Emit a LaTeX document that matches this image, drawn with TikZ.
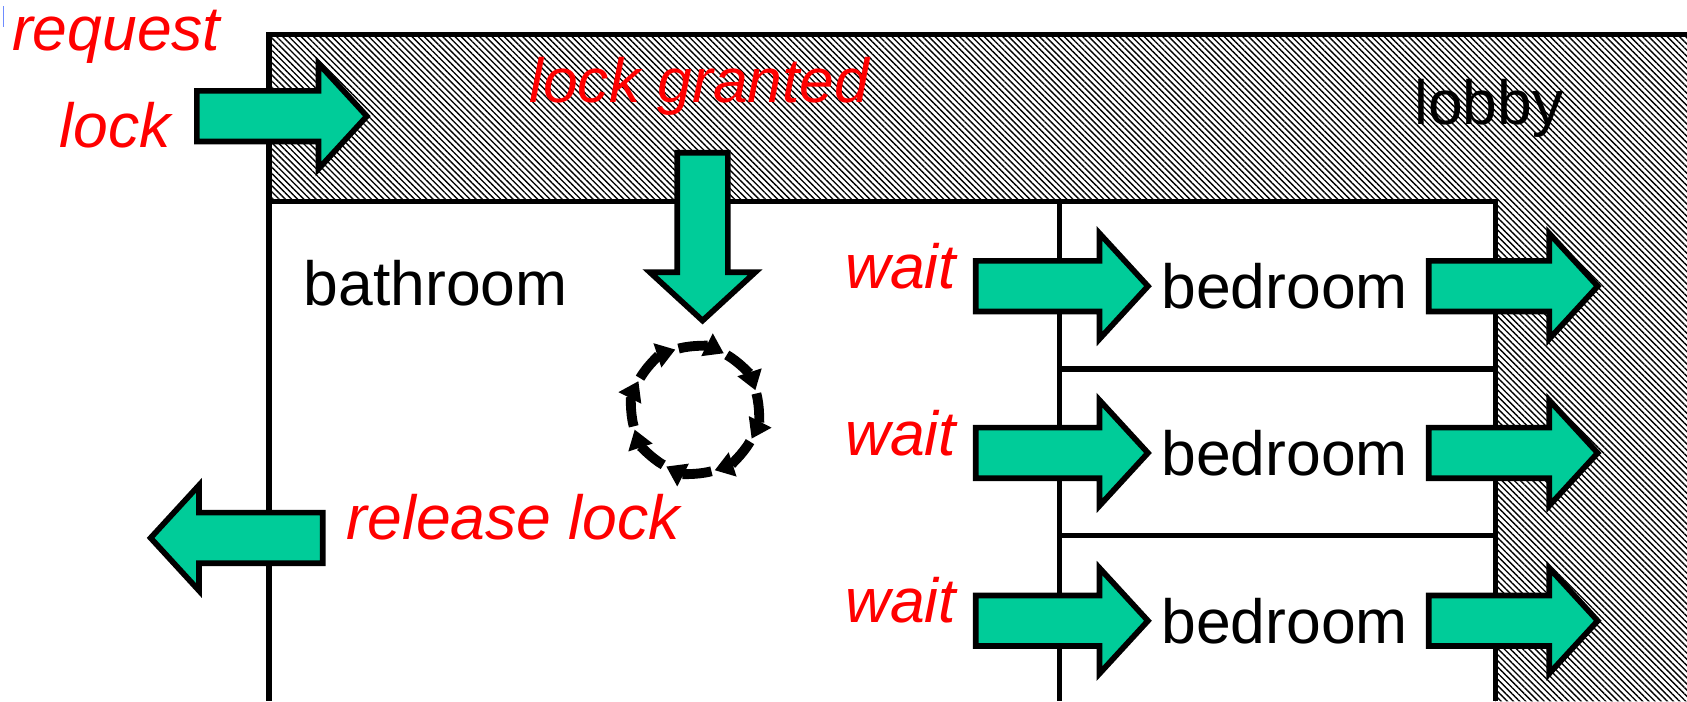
\documentclass[tikz,border=0pt]{standalone}
\usepackage{fontspec}
\setmainfont{Liberation Sans}
\usetikzlibrary{patterns.meta,arrows.meta}
\definecolor{mint}{RGB}{0,204,153}
\definecolor{cursorblue}{RGB}{110,140,255}

\begin{document}
\begin{tikzpicture}[x=0.01cm,y=-0.01cm,
  wall/.style={line width=1.4pt},
  hatch/.style={pattern={Lines[angle=-45,distance=1.15pt,line width=0.36pt]}},
  blk/.style={fill=mint,draw=black,line width=1.5pt,line join=miter},
  redlbl/.style={text=red,font=\fontsize{16.5}{19}\selectfont\itshape,anchor=base,inner sep=0pt},
  roomlbl/.style={text=black,font=\fontsize{16.5}{19}\selectfont,anchor=base,inner sep=0pt},
  spin/.style={line width=2.6pt,-{Triangle[width=6.4pt,length=5pt]}},
  pics/blockarrow/.style={code={
    \path[blk] (0,-23.5) -- ({#1-45},-23.5) -- ({#1-45},-49) -- (#1,0)
      -- ({#1-45},49) -- ({#1-45},23.5) -- (0,23.5) -- cycle;}}
]
\useasboundingbox (0,0) rectangle (1568,652);

% lobby: hatched band around the rooms
\fill[hatch] (250,32) -- (1568,32) -- (1568,652) -- (1390,652)
  -- (1390,187) -- (250,187) -- cycle;

% walls
\draw[wall] (1568,32) -- (250,32) -- (250,652);
\draw[wall] (250,187) -- (1390,187) -- (1390,652);
\draw[wall] (985,187) -- (985,652);
\draw[wall] (985,343) -- (1390,343);
\draw[wall] (985,498) -- (1390,498);

% small cursor mark
\draw[cursorblue,line width=0.35pt] (3,6) -- (3,25);

% block arrows
\pic at (183,108) {blockarrow=158};
\pic[rotate=-90] at (653,142) {blockarrow=156};
\pic[rotate=180] at (300,500) {blockarrow=160};
\foreach \yy in {266,421,577} {
  \pic at (907,\yy) {blockarrow=160};
  \pic at (1328,\yy) {blockarrow=157};
}

% spinning wait loop
\coordinate (spinc) at (646,381);
\foreach \a in {0,...,7} {
  \draw[spin] (spinc) ++({-105+45*\a}:59)
    arc[start angle={-105+45*\a}, end angle={-63+45*\a}, radius=59];
}

% labels
\node[redlbl] (req) at (108,47) {request};
\node[redlbl] (reqlock) at (107,137) {lock};
\node[redlbl] (granted) at (650,95) {lock granted};
\node[roomlbl] (lobby) at (1384,116) {lobby};
\node[roomlbl] (bath) at (405,284) {bathroom};
\node[redlbl] (release) at (477,501) {release lock};
\node[redlbl] (w1) at (837,268) {wait};
\node[redlbl] (w2) at (837,423) {wait};
\node[redlbl] (w3) at (837,579) {wait};
\node[roomlbl] (bed1) at (1194,287) {bedroom};
\node[roomlbl] (bed2) at (1194,442) {bedroom};
\node[roomlbl] (bed3) at (1194,598) {bedroom};
\end{tikzpicture}
\end{document}
